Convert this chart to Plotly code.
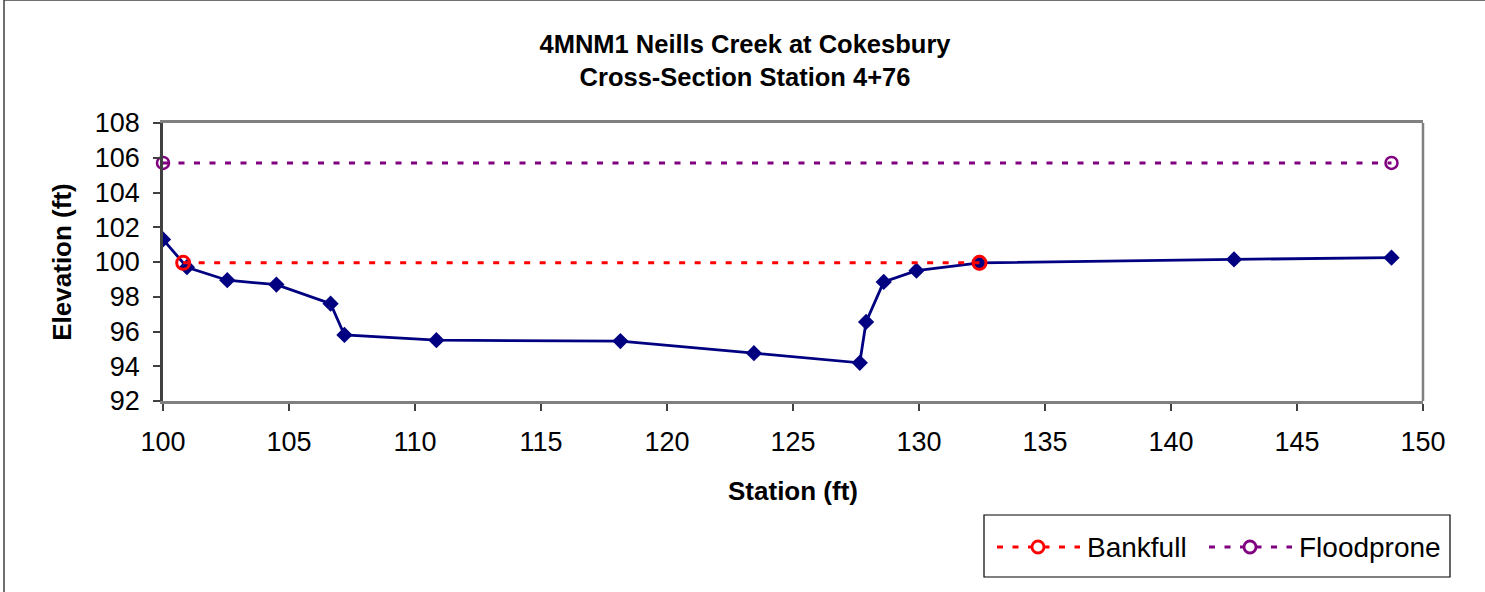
import plotly.graph_objects as go

# Surveyed cross-section (station, elevation) in feet
station = [100.0, 100.95, 102.55, 104.5, 106.65, 107.2, 110.85, 118.15,
           123.45, 127.65, 127.9, 128.6, 129.9, 132.4, 142.5, 148.75]
elevation = [101.3, 99.7, 98.95, 98.7, 97.6, 95.8, 95.5, 95.45,
             94.75, 94.2, 96.55, 98.85, 99.5, 99.95, 100.15, 100.25]

# Reference water levels
bankfull_station = [100.8, 132.4]
bankfull_elev = [99.95, 99.95]
floodprone_station = [100.0, 148.75]
floodprone_elev = [105.7, 105.7]

x_ticks = [100, 105, 110, 115, 120, 125, 130, 135, 140, 145, 150]
y_ticks = [92, 94, 96, 98, 100, 102, 104, 106, 108]

W, H = 1485, 592
L, R, T, B = 163, 62, 123, 191
pw, ph = W - L - R, H - T - B

FONT = "Liberation Sans, Arial, sans-serif"
NAVY, RED, PURPLE = "#000080", "#FF0000", "#800080"
DASH = "6px,9.5px"
FRAME_GRAY = "#808080"


def px_x(p):
    """Page pixel column -> paper x."""
    return (p - L) / pw


def px_y(p):
    """Page pixel row -> paper y."""
    return (H - B - p) / ph


fig = go.Figure()

fig.add_trace(go.Scatter(
    x=station, y=elevation, mode="lines+markers", showlegend=False,
    line=dict(color=NAVY, width=2.8),
    marker=dict(symbol="diamond", size=12.5, color=NAVY),
))
fig.add_trace(go.Scatter(
    x=floodprone_station, y=floodprone_elev, mode="lines+markers", showlegend=False,
    line=dict(color=PURPLE, width=3, dash=DASH),
    marker=dict(symbol="circle-open", size=12, color=PURPLE, line=dict(width=2.5)),
    cliponaxis=False,
))
fig.add_trace(go.Scatter(
    x=bankfull_station, y=bankfull_elev, mode="lines+markers", showlegend=False,
    line=dict(color=RED, width=3, dash=DASH),
    marker=dict(symbol="circle-open", size=13, color=RED, line=dict(width=3)),
    cliponaxis=False,
))

axis_common = dict(
    showgrid=False, zeroline=False, showline=True,
    ticks="outside", ticklen=7, tickwidth=1.5, tickcolor="#404040",
    tickfont=dict(family=FONT, size=27, color="black"),
)

fig.update_xaxes(
    range=[100, 150], tickvals=x_ticks, ticktext=[str(v) for v in x_ticks],
    ticklabelstandoff=8, mirror=True, linecolor=FRAME_GRAY, linewidth=2.5,
    title=dict(text="<b>Station (ft)</b>", font=dict(family=FONT, size=26, color="black"),
               standoff=26),
    **axis_common,
)
fig.update_yaxes(
    range=[92, 108], tickvals=y_ticks, ticktext=[str(v) for v in y_ticks],
    ticklabelstandoff=8, mirror=False, linecolor="#404040", linewidth=2.5,
    title=dict(text="<b>Elevation (ft)</b>", font=dict(family=FONT, size=26, color="black"),
               standoff=16),
    **axis_common,
)

shapes = []
annotations = []

# Right edge of the plot frame
shapes.append(dict(
    type="line", xref="paper", yref="paper", x0=1, x1=1, y0=0, y1=1,
    line=dict(color=FRAME_GRAY, width=2.5),
))

# Outer chart frame
shapes.append(dict(
    type="rect", xref="paper", yref="paper",
    x0=px_x(4), x1=px_x(W + 10), y0=px_y(0), y1=px_y(H + 10),
    line=dict(color="#404040", width=1.5), fillcolor="rgba(0,0,0,0)", layer="below",
))

# Legend box
shapes.append(dict(
    type="rect", xref="paper", yref="paper",
    x0=px_x(984), x1=px_x(1450), y0=px_y(515), y1=px_y(577),
    line=dict(color="black", width=1.2), fillcolor="white",
))

legend_items = [
    ("Bankfull", RED, 997, 1080, 1038, 1085),
    ("Floodprone", PURPLE, 1209, 1292, 1250, 1297),
]
ly = 547
for name, color, lx0, lx1, cx, tx in legend_items:
    shapes.append(dict(
        type="line", xref="paper", yref="paper",
        x0=px_x(lx0), x1=px_x(lx1), y0=px_y(ly), y1=px_y(ly),
        line=dict(color=color, width=3, dash=DASH),
    ))
    shapes.append(dict(
        type="circle", xref="paper", yref="paper",
        xsizemode="pixel", ysizemode="pixel",
        xanchor=px_x(cx), yanchor=px_y(ly),
        x0=-6, x1=6, y0=-6, y1=6,
        line=dict(color=color, width=2.8), fillcolor="white",
    ))
    annotations.append(dict(
        text=name, xref="paper", yref="paper",
        x=px_x(tx), y=px_y(ly), xanchor="left", yanchor="middle",
        showarrow=False, font=dict(family=FONT, size=28, color="black"),
    ))

fig.update_layout(
    width=W, height=H,
    margin=dict(l=L, r=R, t=T, b=B),
    paper_bgcolor="white", plot_bgcolor="white",
    showlegend=False,
    shapes=shapes,
    annotations=annotations,
    title=dict(
        text="<b>4MNM1 Neills Creek at Cokesbury<br>Cross-Section Station 4+76</b>",
        x=745 / W, xanchor="center", xref="container",
        y=1 - 53 / H, yanchor="top", yref="container",
        font=dict(family=FONT, size=25.5, color="black"),
    ),
)

fig.write_html("out.html")
